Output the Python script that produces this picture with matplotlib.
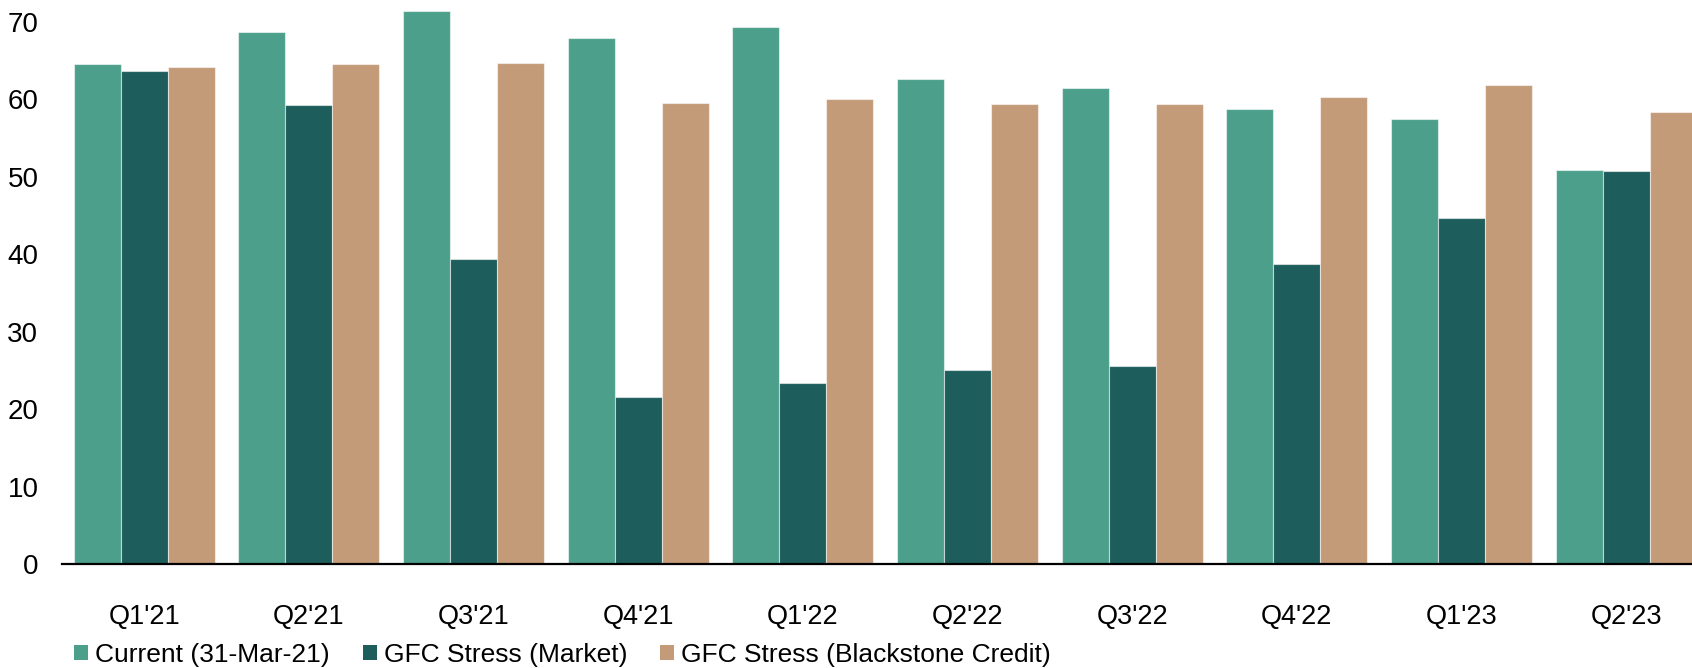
import matplotlib
matplotlib.use("Agg")
import matplotlib.pyplot as plt
import numpy as np

categories = ["Q1'21", "Q2'21", "Q3'21", "Q4'21", "Q1'22", "Q2'22", "Q3'22", "Q4'22", "Q1'23", "Q2'23"]
current = [64.5, 68.7, 71.4, 67.9, 69.3, 62.6, 61.4, 58.7, 57.5, 50.8]
gfc_market = [63.7, 59.3, 39.4, 21.6, 23.4, 25.1, 25.5, 38.7, 44.6, 50.7]
gfc_bx = [64.1, 64.6, 64.7, 59.5, 60.0, 59.4, 59.4, 60.3, 61.8, 58.4]
series_names = ["Current (31-Mar-21)", "GFC Stress (Market)", "GFC Stress (Blackstone Credit)"]
colors = ["#4C9F8B", "#1D5E5C", "#C49B78"]
yticks = [0, 10, 20, 30, 40, 50, 60, 70]

plt.rcParams['font.family'] = ['Liberation Sans', 'DejaVu Sans']

W, H = 1692, 668
fig = plt.figure(figsize=(W / 100, H / 100), dpi=100)
ax = fig.add_axes([62 / W, (H - 564) / H, 1 - 62 / W, 564 / H])

x = np.arange(len(categories))
bw = 0.2855
for k, (vals, name, c) in enumerate(zip([current, gfc_market, gfc_bx], series_names, colors)):
    ax.bar(x + (k - 1) * bw, vals, width=bw, color=c, label=name,
           edgecolor=(1, 1, 1, 0.55), linewidth=0.8)

ax.set_xlim(-0.5, 9.4)
ax.set_ylim(0, 72.8)
ax.set_yticks(yticks)
ax.set_yticklabels([str(v) for v in yticks])
ax.set_xticks(x)
ax.set_xticklabels(categories)
ax.tick_params(axis='y', length=0, pad=17, labelsize=20)
ax.tick_params(axis='x', length=0, pad=29, labelsize=19.5)
for s in ['top', 'right', 'left']:
    ax.spines[s].set_visible(False)
ax.spines['bottom'].set_linewidth(1.6)
ax.spines['bottom'].set_color('black')

leg = fig.legend(loc='center left', bbox_to_anchor=(74 / W, 1 - 655 / H), ncol=3,
                 frameon=False, fontsize=19, handlelength=0.53, handleheight=0.53,
                 handletextpad=0.27, columnspacing=1.25, borderpad=0, borderaxespad=0)
for h in leg.legend_handles:
    h.set_edgecolor('none')

fig.savefig("out.png", dpi=100)
